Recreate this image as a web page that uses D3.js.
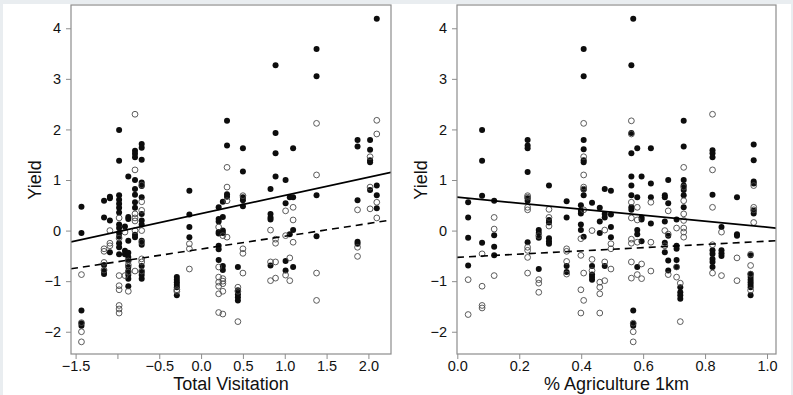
<!DOCTYPE html>
<html>
<head>
<meta charset="utf-8">
<script src="https://cdn.jsdelivr.net/npm/d3@7"></script>
<style>
  html, body { margin: 0; padding: 0; background: #e9edf0; }
  svg { display: block; }
  text { font-family: "Liberation Sans", Arial, Helvetica, sans-serif; fill: #111; }
</style>
</head>
<body>
<div id="chart"></div>
<script>
// Each column: [x value, [yield values at that x]]
const visitFilled = [
  [-1.43, [0.47, -0.05, -1.58, -1.83, -1.88]],
  [-1.16, [0.59, 0.26, -0.68, -0.80, -0.86]],
  [-1.09, [0.67, 0.64, 0.20, -0.43]],
  [-0.98, [1.99, 1.38, 0.70, 0.61, 0.53, 0.45, 0.36, 0.12, 0.05, -0.05, -0.12, -0.25, -0.33, -0.47]],
  [-0.91, [0.08, -0.40, -0.47]],
  [-0.87, [1.07, 0.27, 0.23, -0.20, -0.44, -0.52, -0.58, -0.72, -0.80, -0.88, -0.95, -1.10]],
  [-0.79, [1.58, 1.52, 1.45, 1.00, 0.82, 0.71, 0.56, 0.45, -0.08, -0.13]],
  [-0.71, [1.71, 1.64, 1.40, 0.95, 0.88, 0.66, 0.33, 0.20, 0.12, -0.20, -0.28, -0.70, -0.82, -0.88, -0.95]],
  [-0.29, [-0.92, -0.97, -1.02, -1.07, -1.12, -1.28]],
  [-0.14, [0.79, 0.32, 0.07, -0.13]],
  [0.21, [0.46, 0.23, 0.18, -0.03, -0.06, -0.30, -0.37, -0.58]],
  [0.26, [0.57, 0.27, 0.00, -0.05, -0.70, -0.78]],
  [0.31, [2.17, 1.68, 0.72, 0.67]],
  [0.44, [-0.72, -1.18, -1.26, -1.32, -1.38]],
  [0.50, [1.63, 1.17, 0.66, 0.60, 0.48]],
  [0.83, [0.82, 0.33, 0.26, 0.22, -0.69]],
  [0.89, [3.27, 1.93, 1.53, 1.07]],
  [1.01, [1.00, 0.54, -0.60, -0.79]],
  [1.06, [0.66, -0.07]],
  [1.10, [1.63, 0.66, 0.01, -0.72]],
  [1.38, [3.59, 3.05, 0.70, -0.11]],
  [1.87, [1.79, 1.66, 0.60, -0.22, -0.26]],
  [2.02, [1.79, 1.60, 1.39, 1.35, 0.80]],
  [2.10, [4.19, 0.89, 0.70, 0.44]]
]
const visitOpen = [
  [-1.43, [-0.87, -1.82, -2.00, -2.20]],
  [-1.16, [-0.36, -0.41, -0.63, -0.78]],
  [-1.09, [0.00, -0.25, -0.30]],
  [-0.98, [0.25, -0.15, -0.89, -1.09, -1.17, -1.48, -1.55, -1.63]],
  [-0.91, [-0.03, -0.89]],
  [-0.87, [-0.60, -0.68, -0.82, -1.20]],
  [-0.79, [2.30, 1.20, 0.33, 0.25, 0.19, 0.00, -0.80]],
  [-0.71, [0.90, 0.57, 0.40, 0.00, -0.23, -0.56, -0.62, -0.80]],
  [-0.29, [-1.17, -1.20]],
  [-0.14, [-0.26, -0.36, -0.76]],
  [0.21, [0.07, -0.72, -0.92, -1.02, -1.10, -1.25, -1.62]],
  [0.26, [-0.10, -0.95, -1.00, -1.05, -1.20, -1.65]],
  [0.31, [1.25, 0.86, 0.59, -0.13]],
  [0.44, [-1.12, -1.20, -1.80]],
  [0.50, [0.69, -0.36, -0.45, -0.84]],
  [0.83, [0.01, -0.62, -0.99]],
  [0.89, [-0.17, -0.25, -0.62, -0.94]],
  [1.01, [0.39, -0.10, -0.88]],
  [1.06, [-0.54, -0.99]],
  [1.10, [0.46, 0.21, -0.23]],
  [1.38, [2.12, 1.10, -0.84, -1.38]],
  [1.87, [0.41, -0.33, -0.51]],
  [2.02, [1.46, 0.86, 0.43]],
  [2.10, [2.18, 1.91, 0.56, 0.25]]
]
const agriFilled = [
  [0.035, [0.56, 0.26, -0.14, -0.69]],
  [0.080, [1.99, 1.38, 0.69, -0.24]],
  [0.119, [0.59, -0.09, -0.32, -0.49]],
  [0.227, [1.79, 1.68, 1.63, 1.16, 0.64, 0.59, -0.23]],
  [0.263, [0.01, -0.05, -0.14, -0.76]],
  [0.296, [0.89, 0.21, 0.16, -0.15, -0.21, -0.26]],
  [0.353, [0.58, 0.26, -0.70, -0.82]],
  [0.399, [0.50, 0.39, 0.34, 0.12, 0.01]],
  [0.408, [3.59, 3.05, 1.79, 1.61, 1.39, 1.35, 0.81, 0.70, -0.12]],
  [0.435, [0.55, -0.70, -0.87, -0.92, -0.97]],
  [0.460, [0.45, 0.18, -0.05]],
  [0.476, [0.82, 0.33, 0.26, -0.70]],
  [0.496, [0.79, 0.32, 0.07, -0.13]],
  [0.562, [3.27, 1.93, 1.53, 1.07, 0.89, 0.70, 0.46, 0.41]],
  [0.568, [4.19, -1.58, -1.84, -1.88]],
  [0.581, [1.63, 0.66, 0.01, -0.07, -0.72]],
  [0.595, [1.07, 0.26, 0.22, -0.21]],
  [0.625, [1.63, 0.93, 0.66, 0.14]],
  [0.670, [0.70, 0.66, 0.18, -0.24, -0.43]],
  [0.681, [1.00, 0.54, -0.10, -0.59, -0.79]],
  [0.708, [0.22, -0.30, -0.36, -0.58, -0.72]],
  [0.720, [-1.12, -1.22, -1.28, -1.35]],
  [0.731, [2.17, 1.66, 1.00, 0.89, 0.80, 0.70, 0.46]],
  [0.824, [1.59, 1.53, 1.45, 0.71, -0.39, -0.46, -0.56, -0.62, -0.72]],
  [0.853, [0.07, -0.39, -0.45, -0.50]],
  [0.903, [0.66, -0.07, -0.10]],
  [0.947, [-0.49, -0.86, -0.92, -0.97, -1.02, -1.07, -1.12, -1.28]],
  [0.957, [1.70, 1.39, 0.97, 0.93, 0.39, 0.34]]
]
const agriOpen = [
  [0.035, [-0.97, -1.66]],
  [0.080, [-0.46, -1.10, -1.48, -1.53]],
  [0.119, [0.26, 0.03, -0.89]],
  [0.227, [0.69, 0.66, 0.46, 0.41, -0.33, -0.39, -0.53, -0.84]],
  [0.263, [-0.10, -0.97, -1.04, -1.22]],
  [0.296, [0.42, 0.26, 0.09]],
  [0.353, [-0.36, -0.41, -0.61, -0.86]],
  [0.399, [-0.16, -0.49, -1.17, -1.63]],
  [0.408, [2.12, 1.46, 1.10, 0.86, 0.82, 0.41, -0.84, -1.38]],
  [0.435, [0.00, -0.57, -0.79]],
  [0.460, [-1.02, -1.12, -1.25, -1.63]],
  [0.476, [0.01, -0.62, -0.99]],
  [0.496, [-0.26, -0.36, -0.76]],
  [0.562, [2.17, 1.91, 0.56, 0.25, -0.17, -0.25, -0.62, -0.94]],
  [0.568, [-1.83, -2.00, -2.20]],
  [0.581, [0.46, 0.21, -0.23, -0.87]],
  [0.595, [-0.66, -0.95]],
  [0.625, [0.56, -0.23, -0.80]],
  [0.670, [0.00, -0.30]],
  [0.681, [0.39, -0.07, -0.87]],
  [0.708, [0.05, -0.72, -0.92]],
  [0.720, [-1.04, -1.80]],
  [0.731, [1.25, 0.86, 0.59, 0.33, 0.20, 0.05, -0.03, -0.13]],
  [0.824, [2.30, 1.20, 0.46, -0.28, -0.84]],
  [0.853, [-0.03, -0.89]],
  [0.903, [-0.54, -0.99]],
  [0.947, [-0.47, -0.69, -0.86, -1.18]],
  [0.957, [0.89, 0.46, 0.41, 0.16]]
]

// fitted lines: [intercept, slope]
const visitSolid = [0.335, 0.36]
const visitDashed = [-0.364, 0.252]
const agriSolid = [0.66, -0.593]
const agriDashed = [-0.53, 0.32]

const yTicks = [-2, -1, 0, 1, 2, 3, 4]
const visitTicks = [-1.5, -1.0, -0.5, 0.0, 0.5, 1.0, 1.5, 2.0]
const visitTickLabels = ['−1.5', '', '−0.5', '0.0', '0.5', '1.0', '1.5', '2.0']
const agriTicks = [0.0, 0.2, 0.4, 0.6, 0.8, 1.0]
const agriTickLabels = ['0.0', '0.2', '0.4', '0.6', '0.8', '1.0']

const W = 793, H = 395
const FRAME = '#8d8d8d'

const svg = d3.select('#chart').append('svg')
  .attr('width', W).attr('height', H)

svg.append('rect').attr('x', 3).attr('y', 4).attr('width', 788).attr('height', H - 4)
  .attr('fill', '#fff')

const flatten = cols => cols.flatMap(([x, ys]) => ys.map(y => ({ x, y })))

function panel(opts) {
  const { left, right, xDomain, ticks, labels, filled, open, solid, dashed, xTitle, id } = opts
  const top = 5, bottom = 354
  const x = d3.scaleLinear().domain(xDomain).range([left, right])
  const y = d3.scaleLinear().domain([-2.44, 4.46]).range([bottom, top])

  const g = svg.append('g')

  g.append('clipPath').attr('id', id)
    .append('rect').attr('x', left).attr('y', top)
    .attr('width', right - left).attr('height', bottom - top)

  // x axis
  g.append('g').attr('transform', `translate(0,${bottom})`)
    .call(d3.axisBottom(x).tickValues(ticks).tickSize(5).tickPadding(1.5)
      .tickFormat((d, i) => labels[i]))
    .call(sel => sel.select('.domain').remove())
    .call(sel => sel.selectAll('line').attr('stroke', FRAME))
    .call(sel => sel.selectAll('text').attr('font-size', 14.5).attr('fill', '#111')
      .attr('font-family', '"Liberation Sans", Arial, sans-serif'))

  // y axis
  g.append('g').attr('transform', `translate(${left},0)`)
    .call(d3.axisLeft(y).tickValues(yTicks).tickSize(5).tickPadding(5)
      .tickFormat(d => d < 0 ? '−' + Math.abs(d) : String(d)))
    .call(sel => sel.select('.domain').remove())
    .call(sel => sel.selectAll('line').attr('stroke', FRAME))
    .call(sel => sel.selectAll('text').attr('font-size', 14.5).attr('fill', '#111')
      .attr('font-family', '"Liberation Sans", Arial, sans-serif'))

  // points
  const pts = g.append('g').attr('clip-path', `url(#${id})`)
  pts.selectAll('circle.f').data(flatten(filled)).join('circle')
    .attr('class', 'f')
    .attr('cx', d => x(d.x)).attr('cy', d => y(d.y)).attr('r', 3)
    .attr('fill', '#0d0d0d')
  pts.selectAll('circle.o').data(flatten(open)).join('circle')
    .attr('class', 'o')
    .attr('cx', d => x(d.x)).attr('cy', d => y(d.y)).attr('r', 2.9)
    .attr('fill', 'none').attr('stroke', '#4a4a4a').attr('stroke-width', 0.9)

  // fitted lines
  const [x0, x1] = xDomain
  const line = d3.line().x(d => x(d[0])).y(d => y(d[1]))
  const fit = c => [[x0, c[0] + c[1] * x0], [x1, c[0] + c[1] * x1]]
  pts.append('path').attr('d', line(fit(solid)))
    .attr('fill', 'none').attr('stroke', '#000').attr('stroke-width', 1.8)
  pts.append('path').attr('d', line(fit(dashed)))
    .attr('fill', 'none').attr('stroke', '#000').attr('stroke-width', 1.6)
    .attr('stroke-dasharray', '7 5')

  // frame
  g.append('rect').attr('x', left).attr('y', top)
    .attr('width', right - left).attr('height', bottom - top)
    .attr('fill', 'none').attr('stroke', FRAME).attr('stroke-width', 1.2)

  // titles
  g.append('text').attr('x', (left + right) / 2).attr('y', 389.5)
    .attr('text-anchor', 'middle').attr('font-size', 18).text(xTitle)
  g.append('text').attr('transform', `translate(${left - 30},180) rotate(-90)`)
    .attr('text-anchor', 'middle').attr('font-size', 18).text('Yield')
}

panel({
  id: 'clip-visit', left: 71, right: 391, xDomain: [-1.555, 2.27],
  ticks: visitTicks, labels: visitTickLabels,
  filled: visitFilled, open: visitOpen,
  solid: visitSolid, dashed: visitDashed, xTitle: 'Total Visitation'
})

panel({
  id: 'clip-agri', left: 457, right: 776, xDomain: [-0.001, 1.029],
  ticks: agriTicks, labels: agriTickLabels,
  filled: agriFilled, open: agriOpen,
  solid: agriSolid, dashed: agriDashed, xTitle: '% Agriculture 1km'
})
</script>
</body>
</html>
